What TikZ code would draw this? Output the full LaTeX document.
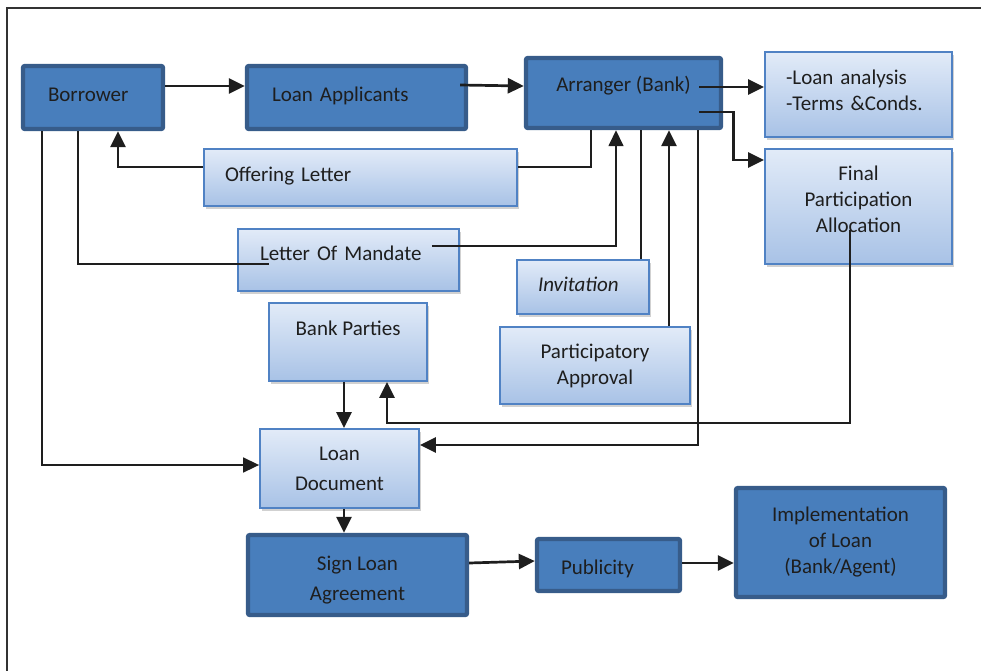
\documentclass[tikz,border=0pt]{standalone}
\usepackage{fontspec}
\setmainfont{Carlito}
\usepackage{tikz}
\usepackage{xcolor}
\usetikzlibrary{arrows.meta, positioning, calc, shadows}
\definecolor{darkfill}{RGB}{72,126,188}
\definecolor{darkedge}{RGB}{55,92,138}
\definecolor{lighttop}{RGB}{226,235,248}
\definecolor{lightbot}{RGB}{168,194,230}
\definecolor{lightedge}{RGB}{80,130,196}
\definecolor{inkc}{RGB}{30,30,30}
\definecolor{framec}{RGB}{50,50,50}
\tikzset{
  wh/.style 2 args={minimum width=#1*0.5pt, minimum height=#2*0.5pt},
  darkbox/.style={draw=darkedge, line width=2.2pt, fill=darkfill, rounded corners=1pt,
    text=inkc, inner sep=0pt, align=center, font=\fontsize{10.5}{13}\selectfont},
  lightbox/.style={draw=lightedge, line width=0.9pt, top color=lighttop, bottom color=lightbot,
    drop shadow={shadow xshift=1pt, shadow yshift=-1.5pt, opacity=0.3, fill=black!60},
    text=inkc, inner sep=0pt, align=center, font=\fontsize{10.5}{13}\selectfont},
  lefttext/.style={text width=#1, align=left},
  link/.style={draw=inkc, line width=1.35pt},
  thinlink/.style={draw=inkc, line width=0.8pt},
  tip/.style={-{Triangle[length=8pt, width=7.5pt]}}
}
\newcommand{\padbelow}[1]{\rule[-#1]{0pt}{#1}}
\newcommand{\padabove}[1]{\rule{0pt}{#1}}

\begin{document}
\begin{tikzpicture}[x=0.5pt, y=-0.5pt]
\useasboundingbox (0,0) rectangle (981,671);
\draw[framec, line width=1pt] (981,8) -- (7,8) -- (7,671);

\node[darkbox, wh={140}{63}, lefttext=45pt] (borrower) at (93,97.5) {Borrower\padbelow{3pt}};
\node[darkbox, wh={219}{63}, lefttext=84.5pt] (applicants) at (356.5,97.5) {Loan Applicants\padbelow{3pt}};
\node[darkbox, wh={195}{70}, text depth=9pt] (arranger) at (623.5,93) {Arranger (Bank)};
\node[lightbox, wh={187}{85}, lefttext=72.5pt] (analysis) at (858.5,94.5) {-Loan analysis\\-Terms \&Conds.\padbelow{4pt}};
\node[lightbox, wh={187}{115}] (final) at (858.5,206.5) {Final\\Participation\\Allocation\padbelow{7pt}};
\node[lightbox, wh={313}{57}, lefttext=135.5pt] (offering) at (360.5,177.5) {Offering Letter\padbelow{3pt}};
\node[lightbox, wh={221}{62}, lefttext=88.5pt, text depth=7pt] (mandate) at (348.5,260) {Letter Of Mandate};
\node[lightbox, wh={132}{54}, lefttext=45pt] (invitation) at (583,287) {\itshape Invitation\padbelow{3pt}};
\node[lightbox, wh={158}{78}, text depth=14pt] (parties) at (348,342) {Bank Parties};
\node[lightbox, wh={190}{77}] (approval) at (595,365.5) {Participatory\\Approval};
\node[lightbox, wh={159}{79}] (document) at (339.5,468.5) {Loan\\[2pt]Document};
\node[darkbox, wh={219}{80}] (sign) at (357.5,575) {Sign Loan\padabove{12.5pt}\\[2pt]Agreement};
\node[darkbox, wh={143}{52}, lefttext=47.5pt] (publicity) at (608.5,565) {Publicity\padabove{11.5pt}};
\node[darkbox, wh={209}{109}] (implement) at (840.5,542.5) {Implementation\\of Loan\\(Bank/Agent)};

\draw[link, tip] ([yshift=5.75pt]borrower.east) -- ([yshift=5.75pt]applicants.west);
\draw[link, tip] ([xshift=-4pt, yshift=6.25pt]applicants.east) -- ([yshift=3.5pt]arranger.west);
\draw[link, tip] ([xshift=-12pt, yshift=3pt]arranger.east) -- ([yshift=3pt]arranger.east -| analysis.west);
\draw[link, tip] ([xshift=-12pt, yshift=-9.5pt]arranger.east) -- ++(17pt,0) |- ([yshift=23.25pt]final.west);
\draw[link] ([xshift=-16.25pt]arranger.south) |- ([yshift=5.25pt]offering.east);
\draw[link, tip] ([yshift=5.25pt]offering.west) -| ([xshift=12.5pt]borrower.south);
\draw[thinlink] ([xshift=-7.5pt]borrower.south) |- ([xshift=16pt, yshift=-2pt]mandate.west);
\draw[thinlink, tip] ([xshift=-14pt, yshift=7pt]mandate.east) -| ([xshift=-3.75pt]arranger.south);
\draw[link] ([xshift=8.75pt]arranger.south) -- ([xshift=8.75pt]arranger.south |- invitation.north);
\draw[link, tip] ([xshift=22.75pt]arranger.south |- approval.north) -- ([xshift=22.75pt]arranger.south);
\draw[link, tip] ([xshift=37.25pt]arranger.south) |- ([yshift=11.75pt]document.east);
\draw[link, tip] ([xshift=-4.25pt, yshift=-11.75pt]final.center) -- ++(0,-96.5pt) -| ([xshift=19.5pt]parties.south);
\draw[thinlink, tip] ([xshift=-25.5pt]borrower.south) |- ([yshift=1.75pt]document.west);
\draw[link, tip] ([xshift=-2pt]parties.south) -- ([xshift=-2pt]parties.south |- document.north);
\draw[link, tip] ([xshift=2.25pt]document.south) -- ([xshift=2.25pt]document.south |- sign.north);
\draw[link, tip] ([yshift=6pt]sign.east) -- ([yshift=2pt]publicity.west);
\draw[link, tip] ([yshift=1pt]publicity.east) -- ([yshift=1pt]publicity.east -| implement.west);
\end{tikzpicture}
\end{document}
